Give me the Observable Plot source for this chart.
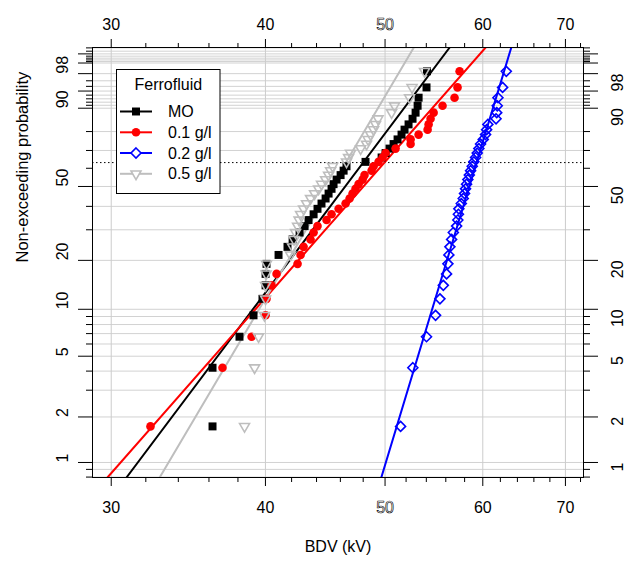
<!DOCTYPE html>
<html>
<head>
<meta charset="utf-8">
<script src="https://cdn.jsdelivr.net/npm/d3@7"></script>
<script src="https://cdn.jsdelivr.net/npm/@observablehq/plot@0.6"></script>
<style>
  html, body { margin: 0; padding: 0; background: white; }
  #chart { width: 629px; height: 565px; }
</style>
</head>
<body>
<div id="chart"></div>
<script>
// ---------- data ----------
const seriesNames = ["MO", "0.1 g/l", "0.2 g/l", "0.5 g/l"];
const seriesColors = ["#000000", "#FF0000", "#0000FF", "#BEBEBE"];

// Breakdown voltages (kV), sorted, 40 per group
const bdvMO = [36.24,36.24,38.11,39.12,39.78,40.01,40.01,40.08,40.99,41.68,42.08,42.63,43.03,43.35,43.76,44.08,44.41,44.75,45.00,45.25,45.42,45.68,46.02,46.28,46.53,48.21,49.68,50.05,50.42,50.80,51.18,51.56,51.85,52.24,52.63,52.93,53.13,53.23,54.02,54.07];
const bdv01 = [32.28,36.92,38.98,40.01,40.08,40.46,40.84,42.47,42.71,42.95,43.51,43.76,44.08,44.83,45.25,45.85,46.45,46.80,47.06,47.32,47.59,47.95,48.12,48.76,48.94,49.40,49.77,50.05,50.99,52.44,52.44,53.23,54.13,54.23,54.43,54.74,55.66,56.92,57.24,57.46];
const bdv02 = [51.47,52.66,54.02,54.94,55.39,55.74,56.08,56.22,56.32,56.43,56.61,56.79,57.14,57.27,57.33,57.38,57.64,57.85,57.99,58.10,58.21,58.35,58.51,58.65,58.83,59.01,59.20,59.38,59.56,59.75,60.05,60.31,60.43,60.57,61.50,61.58,61.64,61.72,62.26,62.69];
const bdv05 = [38.47,39.20,39.49,39.93,40.01,40.01,40.05,40.08,41.92,42.08,42.19,42.31,42.47,42.59,42.71,42.95,43.19,43.51,43.84,44.17,44.41,44.75,45.00,45.17,45.34,46.53,46.71,46.88,47.77,48.30,48.44,48.67,48.94,49.12,49.35,50.61,50.89,52.34,52.58,53.82];

// Weibull fit parameters (shape beta, scale eta in kV)
const weibullShape = [10.94, 9.35, 27.2, 13.91];
const weibullScale = [48.0, 49.94, 59.3, 46.47];

// axis ticks
const xMajor = [30, 40, 50, 60, 70];
const xMinor = [32,34,36,38,42,44,46,48,52,54,56,58,62,64,66,68,72];
const yLabeled = [1, 2, 5, 10, 20, 50, 90, 98];
const yMajorExtra = [95, 99, 99.5];
const yMinor = [0.8,0.9,3,4,6,7,8,9,30,40,60,70,80,91,92,93,94,96,97,99.1,99.2,99.3,99.4,99.6,99.7];
const yGridSkip = [60];
const characteristicLevel = 63.21; // percent
const xDomain = [28.97, 72.4];
const yDomainP = [0.795, 99.71];

// ---------- helpers ----------
const wOf = p => Math.log(-Math.log(1 - p / 100));
const bdvSets = [bdvMO, bdv01, bdv02, bdv05];

const points = [];
bdvSets.forEach((arr, s) => {
  const n = arr.length;
  arr.forEach((v, i) => {
    const p = (i + 1 - 0.3) / (n + 0.4) * 100; // median rank
    points.push({series: seriesNames[s], bdv: v, w: wOf(p)});
  });
});

const wLo = wOf(yDomainP[0]), wHi = wOf(yDomainP[1]);
const fitLines = seriesNames.map((name, s) => [wLo, wHi].map(w => ({
  series: name, w, bdv: weibullScale[s] * Math.exp(w / weibullShape[s])
})));

const triangleDown = {
  draw(ctx, size) {
    const r = Math.sqrt(size / Math.PI) * 1.15;
    ctx.moveTo(0, r);
    ctx.lineTo(-r * 0.866, -r * 0.5);
    ctx.lineTo(r * 0.866, -r * 0.5);
    ctx.closePath();
  }
};
const symbolDefs = [
  {symbol: "square", fill: true, r: 4.5},
  {symbol: "circle", fill: true, r: 4.3},
  {symbol: "diamond2", fill: false, r: 4.5},
  {symbol: triangleDown, fill: false, r: 5}
];

const yAllTicks = [...yLabeled, ...yMajorExtra, ...yMinor];
const yGrid = yAllTicks.filter(p => !yGridSkip.includes(p));
const noText = () => "";

const marks = [
  Plot.ruleY(yGrid.map(wOf), {stroke: "#d2d2d2", strokeWidth: 1}),
  Plot.ruleX(xMajor, {stroke: "#cccccc", strokeWidth: 1}),
  Plot.ruleY([wOf(characteristicLevel)], {stroke: "black", strokeWidth: 1, strokeDasharray: "1.5,2.5"}),
];

seriesNames.forEach((name, s) => {
  marks.push(Plot.line(fitLines[s], {x: "bdv", y: "w", stroke: seriesColors[s], strokeWidth: 2, clip: true}));
});
seriesNames.forEach((name, s) => {
  const def = symbolDefs[s];
  const data = points.filter(d => d.series === name);
  marks.push(Plot.dot(data, {
    x: "bdv", y: "w", symbol: () => def.symbol, r: def.r,
    fill: def.fill ? seriesColors[s] : "none",
    stroke: def.fill ? "none" : seriesColors[s],
    strokeWidth: def.fill ? 0 : 1.6
  }));
});

marks.push(
  Plot.frame({stroke: "black"}),
  // x ticks
  Plot.axisX({anchor: "bottom", ticks: xMajor, tickSize: 9, tickFormat: noText, label: null}),
  Plot.axisX({anchor: "bottom", ticks: xMinor, tickSize: 5, tickFormat: noText, label: null}),
  Plot.axisX({anchor: "top", ticks: xMajor, tickSize: 9, tickFormat: noText, label: null}),
  Plot.axisX({anchor: "top", ticks: xMinor, tickSize: 5, tickFormat: noText, label: null}),
  // y ticks
  Plot.axisY({anchor: "left", ticks: [...yLabeled, ...yMajorExtra].map(wOf), tickSize: 14, tickFormat: noText, label: null}),
  Plot.axisY({anchor: "left", ticks: yMinor.map(wOf), tickSize: 6, tickFormat: noText, label: null}),
  Plot.axisY({anchor: "right", ticks: [...yLabeled, ...yMajorExtra].map(wOf), tickSize: 14, tickFormat: noText, label: null}),
  Plot.axisY({anchor: "right", ticks: yMinor.map(wOf), tickSize: 6, tickFormat: noText, label: null}),
  // x tick labels
  Plot.text(xMajor.filter(d => d !== 50), {x: d => d, text: d => String(d), frameAnchor: "bottom", dy: 35, fontSize: 16}),
  Plot.text(xMajor.filter(d => d === 50), {x: d => d, text: d => String(d), frameAnchor: "bottom", dy: 35, fontSize: 16, stroke: "black", strokeWidth: 0.6}),
  Plot.text(xMajor.filter(d => d !== 50), {x: d => d, text: d => String(d), frameAnchor: "top", dy: -29, fontSize: 16}),
  Plot.text(xMajor.filter(d => d === 50), {x: d => d, text: d => String(d), frameAnchor: "top", dy: -29, fontSize: 16, stroke: "black", strokeWidth: 0.6}),
  // y tick labels
  Plot.text(yLabeled, {y: d => wOf(d), text: d => String(d), frameAnchor: "left", dx: -30, rotate: -90, fontSize: 16}),
  Plot.text(yLabeled, {y: d => wOf(d), text: d => String(d), frameAnchor: "right", dx: 34, rotate: -90, fontSize: 16}),
  // axis titles
  Plot.text(["Non-exceeding probability"], {text: d => d, frameAnchor: "left", dx: -70, rotate: -90, fontSize: 16.5}),
  Plot.text(["BDV (kV)"], {text: d => d, frameAnchor: "bottom", dy: 74, fontSize: 16})
);

const chart = Plot.plot({
  width: 629,
  height: 565,
  marginLeft: 92,
  marginRight: 46,
  marginTop: 47,
  marginBottom: 88,
  x: {type: "log", domain: xDomain, axis: null},
  y: {type: "linear", domain: [wLo, wHi], axis: null},
  style: {background: "white", fontFamily: "'Liberation Sans', Arial, Helvetica, sans-serif", fontSize: "16px", color: "black", overflow: "visible"},
  marks
});

// ---------- legend ----------
const svg = d3.select(chart);
const lg = svg.append("g")
  .attr("font-family", "'Liberation Sans', Arial, Helvetica, sans-serif")
  .attr("font-size", 16)
  .attr("text-anchor", "start");
lg.append("rect").attr("x", 116.5).attr("y", 69.5).attr("width", 103.5).attr("height", 124)
  .attr("fill", "white").attr("stroke", "black").attr("stroke-width", 1);
lg.append("text").attr("x", 168.3).attr("y", 84.5).attr("text-anchor", "middle")
  .attr("dominant-baseline", "central").attr("fill", "black").text("Ferrofluid");
const rowY = [111.5, 132.3, 153, 173.8];
seriesNames.forEach((name, s) => {
  const y = rowY[s];
  const def = symbolDefs[s];
  lg.append("line").attr("x1", 120).attr("x2", 152).attr("y1", y).attr("y2", y)
    .attr("stroke", seriesColors[s]).attr("stroke-width", 2);
  const symType = def.symbol === "square" ? d3.symbolSquare
    : def.symbol === "circle" ? d3.symbolCircle
    : def.symbol === "diamond2" ? d3.symbolDiamond2 : def.symbol;
  const size = Math.PI * def.r * def.r;
  lg.append("path").attr("d", d3.symbol(symType, size)())
    .attr("transform", `translate(136,${y})`)
    .attr("fill", def.fill ? seriesColors[s] : "white")
    .attr("stroke", def.fill ? "none" : seriesColors[s])
    .attr("stroke-width", 1.6);
  lg.append("text").attr("x", 168).attr("y", y).attr("text-anchor", "start")
    .attr("dominant-baseline", "central").attr("fill", "black").text(name);
});

document.getElementById("chart").appendChild(chart);
</script>
</body>
</html>
